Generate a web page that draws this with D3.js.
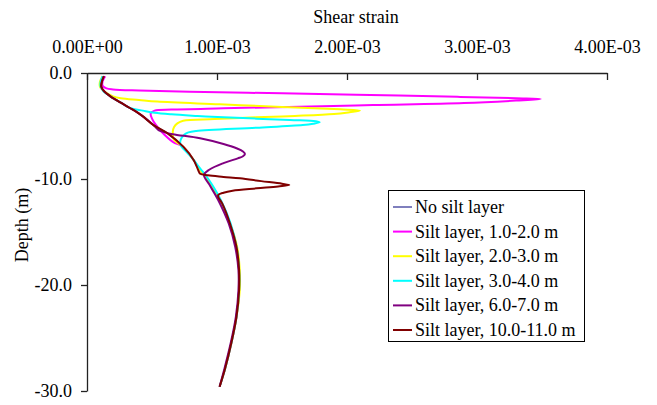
<!DOCTYPE html>
<html>
<head>
<meta charset="utf-8">
<script src="https://cdn.jsdelivr.net/npm/d3@7"></script>
<style>
  html, body { margin: 0; padding: 0; background: #fff; }
  svg { display: block; font-family: "Liberation Serif", "Times New Roman", serif; }
</style>
</head>
<body>
<svg id="chart" width="657" height="405"></svg>
<script>
// Shear strain profiles with depth (strain in units of 1e-3, depth in m)
const seriesNames = [
  "No silt layer",
  "Silt layer, 1.0-2.0 m",
  "Silt layer, 2.0-3.0 m",
  "Silt layer, 3.0-4.0 m",
  "Silt layer, 6.0-7.0 m",
  "Silt layer, 10.0-11.0 m"
];
const seriesColors = ["#3a3a9a", "#ff00ff", "#ffff00", "#00ffff", "#800080", "#800000"];

const depthNoSilt  = [-0.3, -0.8, -1.3, -1.7, -2.2, -2.8, -3.3, -4.0, -4.9, -5.7, -6.95, -8.2, -9.0, -9.6, -10.5, -12.0, -14.2, -16.4, -18.6, -20.5, -23.0, -25.5, -28.0, -29.6];
const strainNoSilt = [0.13, 0.115, 0.11, 0.13, 0.18, 0.26, 0.33, 0.42, 0.51, 0.62, 0.74, 0.82, 0.86, 0.90, 0.95, 1.02, 1.10, 1.15, 1.17, 1.17, 1.15, 1.11, 1.06, 1.02];

const depthSilt1  = [-0.3, -0.8, -1.2, -1.45, -1.55, -1.65, -1.76, -1.92, -2.08, -2.25, -2.38, -2.45, -2.6, -2.83, -3.02, -3.2, -3.33, -3.45, -3.55, -3.8, -4.3, -4.9, -5.5, -6.5, -6.95, -8.2, -9.0, -9.6, -10.5, -12.0, -14.2, -16.4, -18.6, -20.5, -23.0, -25.5, -28.0, -29.6];
const strainSilt1 = [0.14, 0.12, 0.12, 0.15, 0.2, 0.4, 0.79, 1.5, 2.18, 2.85, 3.3, 3.49, 3.3, 2.9, 2.2, 1.55, 1.05, 0.65, 0.52, 0.49, 0.5, 0.53, 0.57, 0.66, 0.74, 0.82, 0.86, 0.90, 0.95, 1.02, 1.10, 1.15, 1.17, 1.17, 1.15, 1.11, 1.06, 1.02];

const depthSilt2  = [-0.3, -0.8, -1.3, -1.8, -2.2, -2.39, -2.55, -2.7, -2.95, -3.2, -3.43, -3.55, -3.7, -3.87, -4.05, -4.18, -4.35, -4.5, -4.75, -5.1, -5.53, -6.32, -6.95, -8.2, -9.0, -9.6, -10.5, -12.0, -14.2, -16.4, -18.6, -20.5, -23.0, -25.5, -28.0, -29.6];
const strainSilt2 = [0.12, 0.1, 0.1, 0.14, 0.2, 0.26, 0.4, 0.54, 1.02, 1.5, 1.95, 2.1, 2.02, 1.9, 1.6, 1.3, 0.98, 0.74, 0.695, 0.67, 0.66, 0.67, 0.74, 0.82, 0.86, 0.90, 0.95, 1.02, 1.10, 1.155, 1.175, 1.175, 1.15, 1.11, 1.06, 1.02];

const depthSilt3  = [-0.3, -0.8, -1.3, -1.7, -2.2, -2.8, -3.3, -3.55, -3.75, -3.9, -4.05, -4.18, -4.43, -4.55, -4.65, -4.78, -4.9, -5.16, -5.47, -5.6, -5.8, -6.32, -6.8, -7.5, -8.2, -9.0, -9.6, -10.5, -12.0, -14.2, -16.4, -18.6, -20.5, -23.0, -25.5, -28.0, -29.6];
const strainSilt3 = [0.12, 0.105, 0.105, 0.125, 0.18, 0.26, 0.33, 0.43, 0.52, 0.65, 0.85, 1.05, 1.56, 1.76, 1.79, 1.74, 1.66, 1.305, 0.84, 0.78, 0.75, 0.72, 0.72, 0.77, 0.82, 0.87, 0.91, 0.96, 1.03, 1.105, 1.15, 1.17, 1.17, 1.15, 1.11, 1.06, 1.02];

const depthSilt6  = [-0.3, -0.8, -1.3, -1.7, -2.2, -2.8, -3.3, -4.0, -4.9, -5.15, -5.38, -5.6, -5.77, -6.16, -6.7, -7.1, -7.4, -7.64, -7.85, -8.05, -8.5, -9.13, -9.62, -10.5, -12.0, -14.2, -16.4, -18.6, -20.5, -23.0, -25.5, -28.0, -29.6];
const strainSilt6 = [0.13, 0.115, 0.11, 0.13, 0.18, 0.26, 0.33, 0.42, 0.51, 0.53, 0.55, 0.6, 0.66, 0.87, 1.05, 1.15, 1.2, 1.215, 1.2, 1.16, 1.05, 0.94, 0.9, 0.94, 1.01, 1.09, 1.14, 1.165, 1.165, 1.145, 1.105, 1.055, 1.02];

const depthSilt10  = [-0.3, -0.8, -1.3, -1.7, -2.2, -2.8, -3.3, -4.0, -4.9, -5.7, -6.95, -8.2, -9.0, -9.3, -9.5, -9.65, -9.8, -9.94, -10.2, -10.45, -10.57, -10.7, -10.88, -11.1, -11.29, -11.5, -11.7, -12.3, -14.2, -16.4, -18.6, -20.5, -23.0, -25.5, -28.0, -29.6];
const strainSilt10 = [0.13, 0.115, 0.11, 0.13, 0.18, 0.26, 0.33, 0.42, 0.51, 0.62, 0.74, 0.82, 0.85, 0.86, 0.87, 0.93, 1.05, 1.177, 1.34, 1.5, 1.556, 1.47, 1.305, 1.12, 1.05, 1.01, 1.01, 1.04, 1.10, 1.15, 1.17, 1.17, 1.15, 1.11, 1.06, 1.02];

const strainTicks = [0, 1, 2, 3, 4];        // x 1e-3
const depthTicks = [0, -10, -20, -30];

const seriesDepths = [depthNoSilt, depthSilt1, depthSilt2, depthSilt3, depthSilt6, depthSilt10];
const seriesStrains = [strainNoSilt, strainSilt1, strainSilt2, strainSilt3, strainSilt6, strainSilt10];

const svg = d3.select("#chart");
const plotLeft = 87, plotRight = 607, plotTop = 73, plotBottom = 391;

const x = d3.scaleLinear().domain([0, 4]).range([plotLeft, plotRight]);
const y = d3.scaleLinear().domain([0, -30]).range([plotTop, plotBottom]);

// spreadsheet-style scientific labels, e.g. 1.00E-03
function sci(v) {
  const val = v * 1e-3;
  if (val === 0) return "0.00E+00";
  const [m, e] = val.toExponential(2).toUpperCase().split("E");
  const n = parseInt(e, 10);
  const sign = n < 0 ? "-" : "+";
  return m + "E" + sign + String(Math.abs(n)).padStart(2, "0");
}
// one decimal with a plain hyphen for negatives
const depthFmt = v => v.toFixed(1);

// top strain axis (ticks point into the plot)
const xAxis = svg.append("g")
  .attr("transform", `translate(0,${plotTop})`)
  .call(d3.axisTop(x).tickValues(strainTicks).tickSize(-7).tickSizeOuter(0).tickPadding(20).tickFormat(sci));
xAxis.select(".domain").attr("stroke", "#222").attr("stroke-width", 1.3);
xAxis.selectAll(".tick line").attr("stroke", "#222").attr("stroke-width", 1.3);
xAxis.selectAll(".tick text")
  .attr("font-size", 18).attr("fill", "#000")
  .attr("font-family", "Liberation Serif, Times New Roman, serif")
  .attr("y", -20);

// left depth axis
const yAxis = svg.append("g")
  .attr("transform", `translate(${plotLeft},0)`)
  .call(d3.axisLeft(y).tickValues(depthTicks).tickSize(6).tickSizeOuter(0).tickPadding(9).tickFormat(depthFmt));
yAxis.select(".domain").attr("stroke", "#222").attr("stroke-width", 1.3);
yAxis.selectAll(".tick line").attr("stroke", "#222").attr("stroke-width", 1.3);
yAxis.selectAll(".tick text")
  .attr("font-size", 18).attr("fill", "#000")
  .attr("font-family", "Liberation Serif, Times New Roman, serif");

// axis titles
svg.append("text")
  .attr("x", 356).attr("y", 23)
  .attr("text-anchor", "middle").attr("font-size", 18)
  .text("Shear strain");
svg.append("text")
  .attr("transform", "translate(28,225) rotate(-90)")
  .attr("text-anchor", "middle").attr("font-size", 18)
  .text("Depth (m)");

// profiles
const line = d3.line()
  .x(d => x(d[1]))
  .y(d => y(d[0]))
  .curve(d3.curveCatmullRom.alpha(0.5));

seriesNames.forEach((name, i) => {
  const pts = seriesDepths[i].map((dv, k) => [dv, seriesStrains[i][k]]);
  svg.append("path")
    .datum(pts)
    .attr("fill", "none")
    .attr("stroke", seriesColors[i])
    .attr("stroke-width", i === 0 ? 1.3 : 2)
    .attr("stroke-linejoin", "round")
    .attr("d", line);
});

// legend
const lg = svg.append("g");
lg.append("rect")
  .attr("x", 388.5).attr("y", 190.5).attr("width", 196).attr("height", 151)
  .attr("fill", "#fff").attr("stroke", "#000").attr("stroke-width", 1);
seriesNames.forEach((name, i) => {
  const cy = 207 + i * 24.6;
  lg.append("line")
    .attr("x1", 393).attr("x2", 412).attr("y1", cy).attr("y2", cy)
    .attr("stroke", seriesColors[i]).attr("stroke-width", i === 0 ? 1.3 : 2);
  lg.append("text")
    .attr("x", 415).attr("y", cy + 6)
    .attr("font-size", 18)
    .text(name);
});
</script>
</body>
</html>
